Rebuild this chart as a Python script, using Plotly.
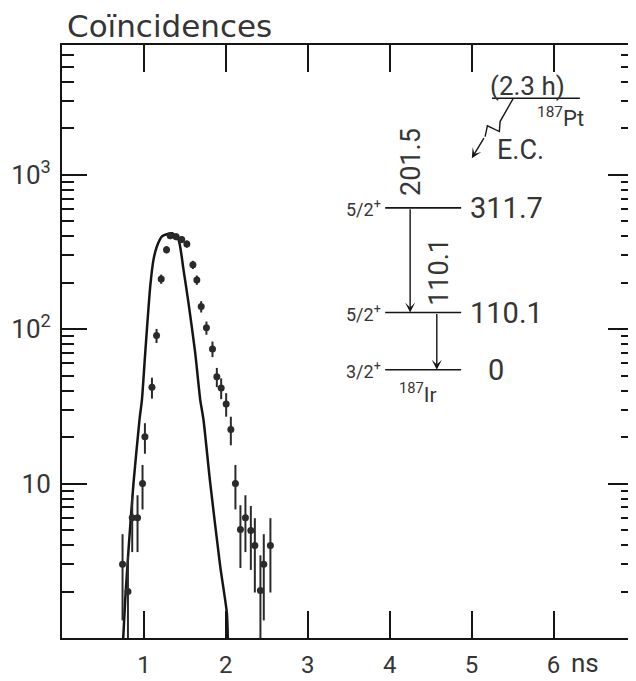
import plotly.graph_objects as go

# delayed coincidence spectrum
time_ns = [0.739, 0.805, 0.857, 0.922, 0.983, 1.012, 1.098, 1.154, 1.211, 1.276,
           1.321, 1.394, 1.461, 1.524, 1.598, 1.646, 1.699, 1.763, 1.837, 1.890,
           1.943, 2.004, 2.061, 2.117, 2.178, 2.239, 2.305, 2.354, 2.422, 2.463, 2.544]
counts = [3.0, 2.0, 6.0, 6.0, 10.0, 20.1, 42.0, 90.8, 211, 327,
          403, 397, 380, 356, 261, 208, 140, 102, 74.5, 49.1,
          41.6, 32.8, 22.4, 10.0, 5.04, 6.0, 4.96, 3.97, 2.03, 3.0, 3.97]
count_err = [1.7, 1.4, 2.4, 2.4, 3.2, 4.5, 6.5, 9.5, 14.5, 18,
             20, 20, 19.5, 19, 16, 14.4, 11.8, 10, 8.6, 7,
             6.4, 5.7, 4.7, 3.2, 2.2, 2.4, 2.2, 2.0, 1.4, 1.7, 2.0]

# prompt curve (solid line)
prompt_t = [0.745, 0.772, 0.812, 0.873, 0.946, 0.976, 1.016, 1.077, 1.117, 1.159, 1.220,
            1.300, 1.345, 1.422, 1.483, 1.544, 1.626, 1.687, 1.727, 1.809, 1.931, 2.012, 2.025]
prompt_c = [0.95, 1.78, 3.74, 10.1, 25.9, 35.0, 70.2, 189, 282, 344, 399,
            415, 418, 380, 243, 148, 70.2, 35.0, 25.9, 10.1, 2.92, 1.46, 0.95]

x_ticks = [1, 2, 3, 4, 5, 6]
y_tickvals = [1, 10, 100, 1000]
y_ticktext = ["", "10", "10<sup>2</sup>", "10<sup>3</sup>"]

# level scheme of 187Ir (keV)
level_energy = [311.7, 110.1, 0.0]
level_spin = ["5/2<sup>+</sup>", "5/2<sup>+</sup>", "3/2<sup>+</sup>"]
level_text = ["311.7", "110.1", "0"]
gamma_from = [311.7, 110.1]
gamma_to = [110.1, 0.0]
gamma_text = ["201.5", "110.1"]

NARROW = "Roboto, Liberation Sans Narrow, sans-serif"
INK = "#151515"
TXT = "#353535"

fig = go.Figure()
fig.add_trace(go.Scatter(
    x=prompt_t, y=prompt_c, mode="lines",
    line=dict(color=INK, width=2.5, shape="spline", smoothing=0.6),
    showlegend=False, hoverinfo="skip",
))
fig.add_trace(go.Scatter(
    x=time_ns, y=counts, mode="markers",
    marker=dict(size=7, color="#2a2a2a"),
    error_y=dict(type="data", array=count_err, visible=True, color="#2a2a2a", thickness=2, width=0),
    showlegend=False,
))


def note(x, y, text, size, yref="y2", **kw):
    kw.setdefault("xanchor", "center")
    kw.setdefault("yanchor", "middle")
    fig.add_annotation(xref="paper", yref=yref, x=x, y=y, text=text, showarrow=False,
                       font=dict(family=kw.pop("family", NARROW), size=size, color=TXT), **kw)


# level scheme drawn on a hidden linear energy axis
lx0, lx1, arrow_x = 0.566, 0.699, [0.6097, 0.6564]
for e, spin, txt in zip(level_energy, level_spin, level_text):
    fig.add_shape(type="line", xref="paper", yref="y2", x0=lx0, x1=lx1, y0=e, y1=e,
                  line=dict(color=INK, width=1.6))
    note(lx0 - 0.003, e, spin, 18, xanchor="right")
    note(0.711 if txt != "0" else 0.742, e, txt, 29, xanchor="left")
for e0, e1, txt, ax, tx in zip(gamma_from, gamma_to, gamma_text, arrow_x, [0.6114, 0.6604]):
    fig.add_annotation(xref="paper", yref="y2", x=ax, y=e1, axref="pixel", ayref="y2", ax=0, ay=e0,
                       text="", showarrow=True, arrowhead=3, arrowsize=1.2, arrowwidth=1.4,
                       arrowcolor=INK, standoff=0)
    note(tx, 400.2 if txt == "201.5" else 188.6, txt, 27, textangle=-90)
note(0.624, -44.3, "<sup>187</sup>Ir", 21)

# parent 187Pt and EC branch
fig.add_shape(type="line", xref="paper", yref="y2", x0=0.753, x1=0.907, y0=522.8, y1=522.8,
              line=dict(color=INK, width=1.6))
note(0.8148, 546, "(2.3 h)", 26)
note(0.8723, 486.8, "<sup>187</sup>Pt", 22)
note(0.8022, 423.3, "E.C.", 27)
fig.add_shape(type="path", xref="paper", yref="y2",
              path="M0.7905,522.8 L0.7672,477.8 L0.766,458.6 L0.745,469.5 L0.741,448.9",
              line=dict(color=INK, width=1.4))
fig.add_annotation(xref="paper", yref="y2", x=0.7177, y=407.4, axref="pixel", ayref="y2", ax=13, ay=448.9,
                   text="", showarrow=True, arrowhead=3, arrowsize=1.2, arrowwidth=1.4, arrowcolor=INK,
                   standoff=0)

note(0.006, 1.032, "Coïncidences", 31, yref="paper", xanchor="left", family="DejaVu Sans")
note(0.888, -0.043, "ns", 26, yref="paper", xanchor="left")

# the page body adds an 8px offset, so margins are shifted to compensate
fig.update_layout(
    width=636, height=681,
    margin=dict(l=54, r=11, t=37, b=51),
    paper_bgcolor="white", plot_bgcolor="white",
    showlegend=False,
    xaxis=dict(range=[0, 6.97], tickvals=x_ticks, ticktext=[str(t) for t in x_ticks],
               ticks="inside", ticklen=27, tickwidth=1.6, tickcolor=INK,
               showline=True, linecolor=INK, linewidth=2, mirror="ticks",
               showgrid=False, zeroline=False, ticklabelstandoff=4, automargin=False,
               tickfont=dict(family=NARROW, size=24, color=TXT)),
    yaxis=dict(type="log", range=[0, 3.84], tickvals=y_tickvals, ticktext=y_ticktext,
               ticks="inside", ticklen=25, tickwidth=1.6, tickcolor=INK,
               minor=dict(ticks="inside", ticklen=12, tickwidth=1.6, tickcolor=INK, dtick="D1", showgrid=False),
               showline=True, linecolor=INK, linewidth=2, mirror="ticks",
               showgrid=False, zeroline=False, ticklabelstandoff=4, automargin=False,
               tickfont=dict(family=NARROW, size=26, color=TXT)),
    yaxis2=dict(overlaying="y", range=[-516.5, 625.2], visible=False),
)

fig.write_html("out.html")
